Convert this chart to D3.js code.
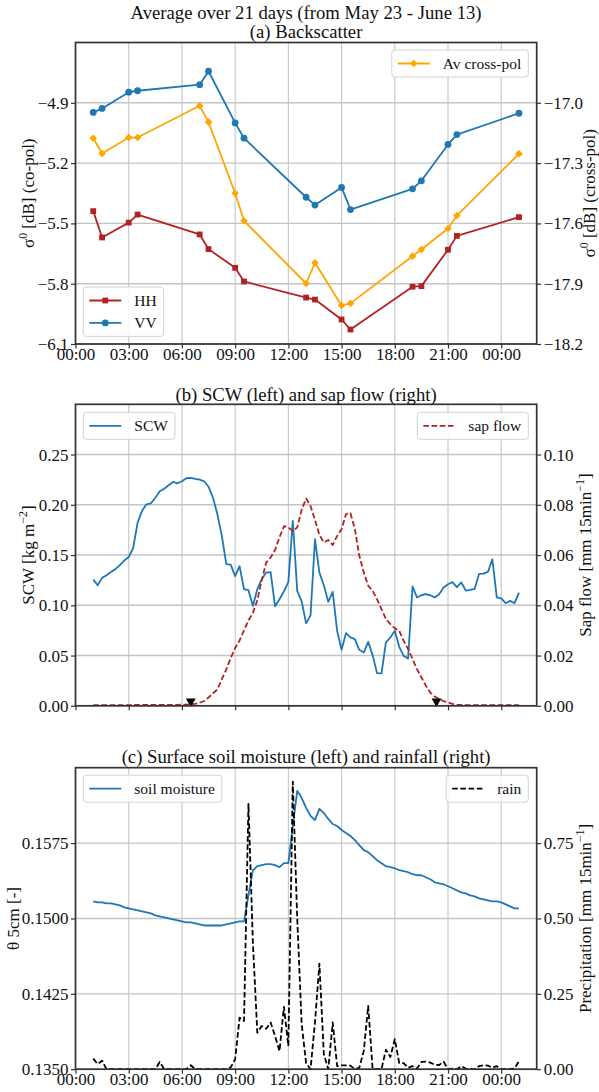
<!DOCTYPE html>
<html>
<head>
<meta charset="utf-8">
<script src="https://cdn.jsdelivr.net/npm/d3@7"></script>
<style>
  html, body { margin: 0; padding: 0; background: #fff; }
  svg { display: block; font-family: "Liberation Serif", "Times New Roman", serif; }
</style>
</head>
<body>
<svg id="fig" width="599" height="1092"></svg>
<script>
// ---------- data ----------
// x axis: hours after midnight of the first day
const hourTicks = [0, 3, 6, 9, 12, 15, 18, 21, 24];
const hourLabels = ["00:00", "03:00", "06:00", "09:00", "12:00", "15:00", "18:00", "21:00", "00:00"];

// (a) radar acquisitions, averaged over 21 days
const passHours = [1, 1.5, 3, 3.5, 7, 7.5, 9, 9.5, 13, 13.5, 15, 15.5, 19, 19.5, 21, 21.5, 25];
const hhValues = [-5.439, -5.570, -5.496, -5.456, -5.555, -5.628, -5.721, -5.789, -5.869, -5.879,
                  -5.978, -6.028, -5.815, -5.812, -5.631, -5.562, -5.469];
const vvValues = [-4.948, -4.928, -4.847, -4.840, -4.810, -4.743, -5.000, -5.076, -5.370, -5.409,
                  -5.321, -5.431, -5.328, -5.288, -5.107, -5.058, -4.952];
const crossValues = [-17.176, -17.252, -17.173, -17.173, -17.015, -17.096, -17.450, -17.587, -17.899, -17.796,
                     -18.008, -17.998, -17.763, -17.730, -17.625, -17.561, -17.254];
const coPolTicks = [-6.1, -5.8, -5.5, -5.2, -4.9];
const crossPolTicks = [-18.2, -17.9, -17.6, -17.3, -17.0];

// 15-minute series, 01:00 to 01:00 of the next day
const seriesStart = 1;
const seriesStep = 0.25;
const scwValues = [
  0.1256, 0.120, 0.1273, 0.130, 0.1332, 0.136, 0.140, 0.1445,
  0.148, 0.157, 0.182, 0.194, 0.2005, 0.2015, 0.207, 0.2134,
  0.216, 0.2194, 0.2227, 0.2214, 0.2234, 0.2264, 0.2267, 0.2257,
  0.225, 0.2234, 0.218, 0.207, 0.1905, 0.169, 0.141, 0.1405,
  0.129, 0.139, 0.116, 0.115, 0.0994, 0.116, 0.126, 0.1326,
  0.133, 0.099, 0.106, 0.114, 0.123, 0.184, 0.1143, 0.104,
  0.082, 0.090, 0.1657, 0.1326, 0.120, 0.1034, 0.1133, 0.0746,
  0.0557, 0.0723, 0.068, 0.0663, 0.0557, 0.053, 0.0636, 0.0504,
  0.0325, 0.0322, 0.063, 0.068, 0.0746, 0.0587, 0.0497, 0.0471,
  0.1187, 0.1078, 0.110, 0.111, 0.110, 0.1078, 0.111, 0.1177,
  0.121, 0.123, 0.118, 0.1227, 0.1147, 0.1153, 0.1163, 0.1312,
  0.1316, 0.1332, 0.1458, 0.1078, 0.1068, 0.1021, 0.1044, 0.1021,
  0.1127
];
const sapValues = [
  0.0003, 0.0003, 0.0003, 0.0003, 0.0003, 0.0003, 0.0003, 0.0003,
  0.0003, 0.0003, 0.0004, 0.0004, 0.0004, 0.0004, 0.0004, 0.0004,
  0.0004, 0.0004, 0.0004, 0.0004, 0.0005, 0.0005, 0.0006, 0.0008,
  0.0012, 0.0019, 0.0033, 0.0050, 0.0065, 0.0106, 0.0145, 0.0190,
  0.0230, 0.0260, 0.0300, 0.0340, 0.0370, 0.0420, 0.0500, 0.0570,
  0.0590, 0.0620, 0.0670, 0.0715, 0.0710, 0.0695, 0.0710, 0.0780,
  0.0825, 0.0795, 0.0740, 0.0680, 0.0650, 0.0660, 0.0640, 0.0676,
  0.0703, 0.0763, 0.0767, 0.0703, 0.0597, 0.0531, 0.0478, 0.0458,
  0.0424, 0.0385, 0.0345, 0.0325, 0.0308, 0.0299, 0.0259, 0.0226,
  0.0186, 0.0146, 0.0113, 0.0080, 0.0053, 0.0037, 0.0027, 0.0019,
  0.0013, 0.0008, 0.0005, 0.0004, 0.0003, 0.0003, 0.0003, 0.0003,
  0.0003, 0.0003, 0.0003, 0.0003, 0.0003, 0.0003, 0.0003, 0.0003,
  0.0003
];
const soilValues = [
  0.1517, 0.1516, 0.1516, 0.1515, 0.1515, 0.1514, 0.1513, 0.1511,
  0.1510, 0.1509, 0.1508, 0.1507, 0.1506, 0.1505, 0.1503, 0.1502,
  0.1501, 0.1500, 0.1499, 0.1498, 0.1497, 0.1496, 0.1496, 0.1495,
  0.1494, 0.1493, 0.1493, 0.1493, 0.1493, 0.1493, 0.1494, 0.1495,
  0.1496, 0.1497, 0.1497, 0.1523, 0.1548, 0.1552, 0.1553, 0.1554,
  0.1554, 0.1553, 0.1551, 0.1555, 0.1555, 0.1592, 0.1627, 0.1620,
  0.1610, 0.1602, 0.1598, 0.1609, 0.1605, 0.1599, 0.1594, 0.1592,
  0.1588, 0.1585, 0.1582, 0.1578, 0.1573, 0.1568, 0.1566, 0.1562,
  0.1558, 0.1555, 0.1552, 0.1551, 0.1550, 0.1548, 0.1547, 0.1546,
  0.1544, 0.1543, 0.1543, 0.1541, 0.1539, 0.1536, 0.1535, 0.1534,
  0.1532, 0.1530, 0.1528, 0.1526, 0.1525, 0.1523, 0.1522, 0.1520,
  0.1519, 0.1518, 0.1517, 0.1517, 0.1516, 0.1514, 0.1512, 0.1510,
  0.1510
];
const rainValues = [
  0.035, 0.017, 0.028, 0, 0, 0, 0, 0,
  0, 0, 0, 0, 0, 0, 0, 0.024,
  0, 0, 0, 0, 0, 0, 0.013, 0,
  0, 0, 0, 0, 0, 0, 0, 0.006,
  0.033, 0.171, 0.160, 0.880, 0.420, 0.121, 0.143, 0.134,
  0.155, 0.110, 0.060, 0.207, 0.077, 0.954, 0.500, 0.150,
  0.020, 0, 0.155, 0.350, 0.050, 0, 0.155, 0.010,
  0.013, 0.013, 0.012, 0, 0.005, 0.060, 0.210, 0,
  0, 0, 0.065, 0.040, 0.100, 0.020, 0.020, 0.005,
  0.010, 0.002, 0.024, 0.025, 0.022, 0.015, 0.014, 0.025,
  0, 0.002, 0, 0.010, 0.002, 0, 0, 0.010,
  0.013, 0.012, 0.005, 0.010, 0, 0, 0, 0.002,
  0.027
];
// sunrise / sunset markers on the sap-flow axis
const dayMarkHours = [6.5, 20.35];
const dayMarkLevel = 0.0018;

const scwTicks = [0, 0.05, 0.10, 0.15, 0.20, 0.25];
const sapTicks = [0, 0.02, 0.04, 0.06, 0.08, 0.10];
const soilTicks = [0.1350, 0.1425, 0.1500, 0.1575];
const rainTicks = [0, 0.25, 0.50, 0.75];

// ---------- layout ----------
const svg = d3.select("#fig");
const FONT = '"Liberation Serif", "Times New Roman", serif';
const TICK_FS = 17, TITLE_FS = 18.7, LEGEND_FS = 15.5, LABEL_FS = 17;
const plotLeft = 75.5, plotRight = 536.7, panelH = 301.5;
const C_BLUE = "#1f77b4", C_RED = "#b22222", C_ORANGE = "#ffa500", C_AXIS = "#333333";

const x = d3.scaleLinear().domain([0, 26]).range([plotLeft, plotRight]);
const seriesHours = scwValues.map((_, i) => seriesStart + i * seriesStep);

svg.append("rect").attr("width", 599).attr("height", 1092).attr("fill", "#fff");

function makePanel(top, leftDomain, rightDomain, leftTicks) {
  const bottom = top + panelH;
  const yL = d3.scaleLinear().domain(leftDomain).range([bottom, top]);
  const yR = d3.scaleLinear().domain(rightDomain).range([bottom, top]);
  const g = svg.append("g");
  const grid = g.append("g");
  grid.selectAll("line.v").data(hourTicks).join("line").attr("class", "v")
    .attr("x1", d => x(d)).attr("x2", d => x(d)).attr("y1", top).attr("y2", bottom)
    .attr("stroke", "#c6c6c6").attr("stroke-width", 1.1);
  grid.selectAll("line.h").data(leftTicks).join("line").attr("class", "h")
    .attr("x1", plotLeft).attr("x2", plotRight).attr("y1", d => yL(d)).attr("y2", d => yL(d))
    .attr("stroke", "#c4c4c4").attr("stroke-width", 1.4);
  return { g, yL, yR, top, bottom };
}

function styleAxis(sel) {
  sel.select(".domain").remove();
  sel.selectAll(".tick line").attr("stroke", C_AXIS).attr("stroke-width", 1.2);
  sel.selectAll(".tick text").attr("fill", "#111").attr("font-size", TICK_FS).attr("font-family", FONT);
}

function drawAxes(p, opts) {
  const g = p.g;
  g.append("g").attr("transform", `translate(${plotLeft},0)`)
    .call(d3.axisLeft(p.yL).tickValues(opts.leftTicks).tickFormat(opts.leftFmt).tickSize(4.5).tickPadding(2.5))
    .call(styleAxis);
  g.append("g").attr("transform", `translate(${plotRight},0)`)
    .call(d3.axisRight(p.yR).tickValues(opts.rightTicks).tickFormat(opts.rightFmt).tickSize(4.5).tickPadding(2.5))
    .call(styleAxis);
  const xa = g.append("g").attr("transform", `translate(0,${p.bottom})`)
    .call(d3.axisBottom(x).tickValues(hourTicks)
      .tickFormat((d, i) => opts.showX ? hourLabels[i] : "").tickSize(4.5))
    .call(styleAxis);
  xa.selectAll(".tick text").attr("dy", null).attr("y", 15.5);
  g.append("rect").attr("x", plotLeft).attr("y", p.top)
    .attr("width", plotRight - plotLeft).attr("height", p.bottom - p.top)
    .attr("fill", "none").attr("stroke", C_AXIS).attr("stroke-width", 1.7);
}

// rotated axis label with optional superscript parts
function axisLabel(cx, cy, parts) {
  const t = svg.append("text").attr("transform", `translate(${cx},${cy}) rotate(-90)`)
    .attr("text-anchor", "middle").attr("font-size", LABEL_FS).attr("font-family", FONT).attr("fill", "#111");
  let shifted = false;
  parts.forEach(pt => {
    const s = t.append("tspan").text(pt.t);
    if (pt.sup) { s.attr("font-size", LABEL_FS * 0.7).attr("dy", -7); shifted = true; }
    else if (shifted) { s.attr("dy", 7); shifted = false; }
  });
}

function title(txt, cy) {
  svg.append("text").attr("x", (plotLeft + plotRight) / 2).attr("y", cy)
    .attr("text-anchor", "middle").attr("font-size", TITLE_FS).attr("font-family", FONT)
    .attr("fill", "#111").text(txt);
}

function marker(g, kind, cx, cy, color) {
  if (kind === "circle") g.append("circle").attr("cx", cx).attr("cy", cy).attr("r", 3.4).attr("fill", color);
  else if (kind === "square") g.append("rect").attr("x", cx - 2.9).attr("y", cy - 2.9).attr("width", 5.8).attr("height", 5.8).attr("fill", color);
  else if (kind === "diamond") g.append("path")
    .attr("d", `M${cx},${cy - 3.8}L${cx + 3.8},${cy}L${cx},${cy + 3.8}L${cx - 3.8},${cy}Z`).attr("fill", color);
}

function legend(g, items, anchor, ax, ay) {
  // anchor: "left" -> ax is left edge; "right" -> ax is right edge; ay is top edge (or bottom if ay<0)
  const rowH = 22.4, padTop = 13.5;
  const lg = g.append("g");
  const box = lg.append("rect");
  let maxW = 0;
  const content = lg.append("g");
  items.forEach((it, i) => {
    const cy = padTop + i * rowH;
    const t = content.append("text").attr("x", 51).attr("y", cy).attr("dy", "0.33em")
      .attr("font-size", LEGEND_FS).attr("font-family", FONT).attr("fill", "#111").text(it.label);
    maxW = Math.max(maxW, t.node().getComputedTextLength());
    content.append("line").attr("x1", 6).attr("x2", 38).attr("y1", cy).attr("y2", cy)
      .attr("stroke", it.color).attr("stroke-width", 1.8).attr("stroke-dasharray", it.dash || null);
    if (it.marker) marker(content, it.marker, 22, cy, it.color);
  });
  const w = 51 + maxW + 7, h = padTop * 2 + (items.length - 1) * rowH;
  const left = anchor === "left" ? ax : ax - w;
  const top = ay >= 0 ? ay : -ay - h;
  lg.attr("transform", `translate(${left},${top})`);
  box.attr("width", w).attr("height", h).attr("rx", 3)
    .attr("fill", "#fff").attr("fill-opacity", 0.85).attr("stroke", "#d2d2d2").attr("stroke-width", 1);
}

function seriesLine(g, xs, ys, yScale, color, dash, width) {
  const pts = xs.map((h, i) => [h, ys[i]]);
  g.append("path").datum(pts)
    .attr("d", d3.line().x(d => x(d[0])).y(d => yScale(d[1])))
    .attr("fill", "none").attr("stroke", color).attr("stroke-width", width || 1.8)
    .attr("stroke-linejoin", "round").attr("stroke-dasharray", dash || null);
}

// ---------- titles ----------
title("Average over 21 days (from May 23 - June 13)", 18.5);

// ---------- (a) backscatter ----------
const pA = makePanel(42.5, [-6.1, -4.6], [-18.2, -16.7], coPolTicks);
title("(a) Backscatter", 38);
[[hhValues, C_RED, "square"], [vvValues, C_BLUE, "circle"]].forEach(([vals, col, mk]) => {
  seriesLine(pA.g, passHours, vals, pA.yL, col);
  passHours.forEach((h, i) => marker(pA.g, mk, x(h), pA.yL(vals[i]), col));
});
legend(pA.g, [{ label: "HH", color: C_RED, marker: "square" }, { label: "VV", color: C_BLUE, marker: "circle" }],
  "left", plotLeft + 7.8, -(pA.bottom - 7.6));
seriesLine(pA.g, passHours, crossValues, pA.yR, C_ORANGE);
passHours.forEach((h, i) => marker(pA.g, "diamond", x(h), pA.yR(crossValues[i]), C_ORANGE));
legend(pA.g, [{ label: "Av cross-pol", color: C_ORANGE, marker: "diamond" }], "right", plotRight - 8.4, pA.top + 7.5);
drawAxes(pA, { leftTicks: coPolTicks, rightTicks: crossPolTicks, leftFmt: d3.format(".1f"), rightFmt: d3.format(".1f"), showX: true });
axisLabel(34, (pA.top + pA.bottom) / 2, [{ t: "σ" }, { t: "0", sup: true }, { t: " [dB] (co-pol)" }]);
axisLabel(594.5, (pA.top + pA.bottom) / 2, [{ t: "σ" }, { t: "0", sup: true }, { t: " [dB] (cross-pol)" }]);

// ---------- (b) SCW and sap flow ----------
const pB = makePanel(404.3, [0, 0.30], [0, 0.12], scwTicks);
title("(b) SCW (left) and sap flow (right)", 400.5);
seriesLine(pB.g, seriesHours, scwValues, pB.yL, C_BLUE);
legend(pB.g, [{ label: "SCW", color: C_BLUE }], "left", plotLeft + 7.8, pB.top + 8);
seriesLine(pB.g, seriesHours, sapValues, pB.yR, C_RED, "5.6,2.6");
pB.g.selectAll("path.daymark").data(dayMarkHours).join("path").attr("class", "daymark")
  .attr("transform", d => `translate(${x(d)},${pB.yR(dayMarkLevel)}) rotate(180)`)
  .attr("d", d3.symbol(d3.symbolTriangle, 42)()).attr("fill", "#000");
legend(pB.g, [{ label: "sap flow", color: C_RED, dash: "5.6,2.6" }], "right", plotRight - 8.4, pB.top + 8);
drawAxes(pB, { leftTicks: scwTicks, rightTicks: sapTicks, leftFmt: d3.format(".2f"), rightFmt: d3.format(".2f"), showX: false });
axisLabel(34, (pB.top + pB.bottom) / 2, [{ t: "SCW [kg m" }, { t: "−2", sup: true }, { t: "]" }]);
axisLabel(591, (pB.top + pB.bottom) / 2, [{ t: "Sap flow [mm 15min" }, { t: "−1", sup: true }, { t: "]" }]);

// ---------- (c) soil moisture and rainfall ----------
const pC = makePanel(767.7, [0.135, 0.165], [0, 1.0], soilTicks);
title("(c) Surface soil moisture (left) and rainfall (right)", 763);
seriesLine(pC.g, seriesHours, soilValues, pC.yL, C_BLUE);
legend(pC.g, [{ label: "soil moisture", color: C_BLUE }], "left", plotLeft + 7.8, pC.top + 7.5);
seriesLine(pC.g, seriesHours, rainValues, pC.yR, "#000", "5.6,2.6");
legend(pC.g, [{ label: "rain", color: "#000", dash: "5.6,2.6" }], "right", plotRight - 8.4, pC.top + 7.5);
drawAxes(pC, { leftTicks: soilTicks, rightTicks: rainTicks, leftFmt: d3.format(".4f"), rightFmt: d3.format(".2f"), showX: true });
axisLabel(19, (pC.top + pC.bottom) / 2, [{ t: "θ 5cm [-]" }]);
axisLabel(591, (pC.top + pC.bottom) / 2, [{ t: "Precipitation [mm 15min" }, { t: "−1", sup: true }, { t: "]" }]);
</script>
</body>
</html>
